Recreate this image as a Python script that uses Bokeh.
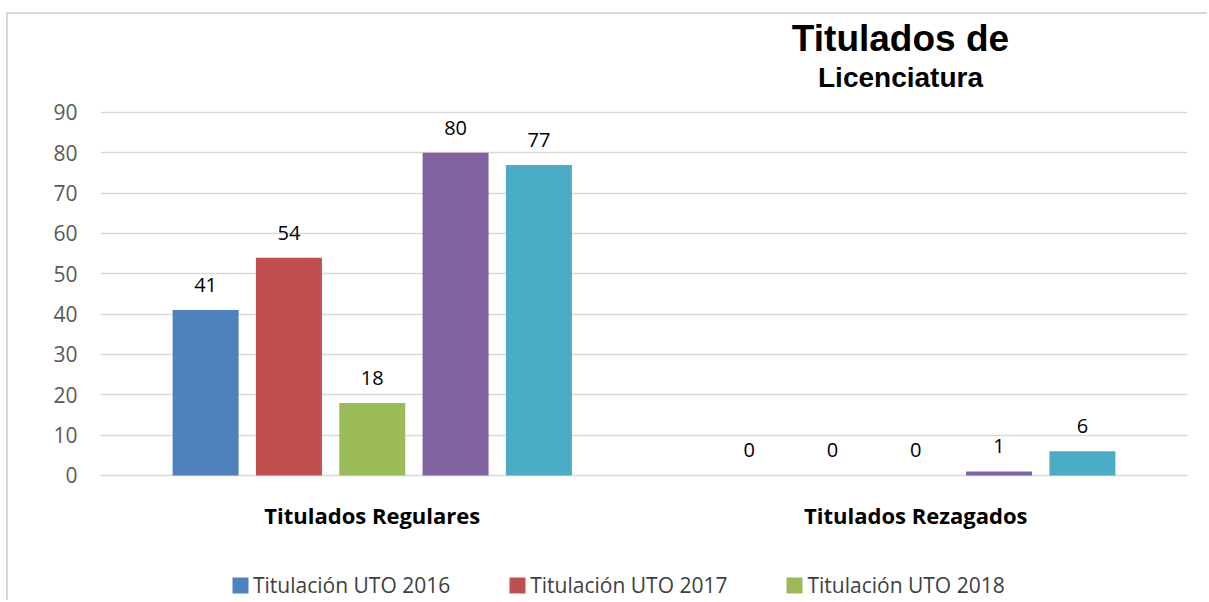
from bokeh.plotting import figure
from bokeh.layouts import column
from bokeh.models import ColumnDataSource, FactorRange, Range1d, FixedTicker, Label, Legend, LegendItem
from bokeh.core.properties import value
from bokeh.transform import dodge
from bokeh.embed import file_html
from bokeh.resources import INLINE

categories = ["Titulados Regulares", "Titulados Rezagados"]
series_names = ["Titulación UTO 2016", "Titulación UTO 2017", "Titulación UTO 2018",
                "Titulación UTO 2019", "Titulación UTO 2020"]
values_2016 = [41, 0]
values_2017 = [54, 0]
values_2018 = [18, 0]
values_2019 = [80, 1]
values_2020 = [77, 6]
y_ticks = [0, 10, 20, 30, 40, 50, 60, 70, 80, 90]
title_line1 = "Titulados de"
title_line2 = "Licenciatura"

colors = ["#4F81BD", "#C0504D", "#9BBB59", "#8064A2", "#4BACC6"]
all_values = [values_2016, values_2017, values_2018, values_2019, values_2020]

src = ColumnDataSource(data=dict(
    cat=categories,
    **{f"s{i}": v for i, v in enumerate(all_values)},
    **{f"t{i}": [str(x) for x in v] for i, v in enumerate(all_values)},
))

p = figure(x_range=FactorRange(*categories, range_padding=0),
           y_range=Range1d(-0.5, 114.05),
           width=1201, height=531, output_backend="svg", toolbar_location=None,
           min_border_left=92, min_border_right=22, min_border_top=1, min_border_bottom=68)
p.title = None
p.margin = (12, 0, 0, 6)
p.styles = {"border-top": "2px solid #d9d9d9", "border-left": "2px solid #d9d9d9"}
p.outline_line_color = None
p.background_fill_color = "white"

step = 0.1533
width = 0.1214
for i in range(5):
    off = (i - 2) * step
    p.vbar(x=dodge("cat", off, range=p.x_range), top=f"s{i}", width=width,
           source=src, color=colors[i], line_color=None)
    p.text(x=dodge("cat", off, range=p.x_range), y=f"s{i}", text=f"t{i}", source=src,
           text_align="center", text_baseline="alphabetic", y_offset=-25,
           text_font=value("Open Sans"), text_font_size=value("20px"), text_color="#000000")

p.yaxis.ticker = FixedTicker(ticks=y_ticks)
p.yaxis.axis_line_color = None
p.yaxis.major_tick_line_color = None
p.yaxis.minor_tick_line_color = None
p.yaxis.major_tick_out = 0
p.yaxis.major_tick_in = 0
p.yaxis.major_label_text_font = "Open Sans"
p.yaxis.major_label_text_font_size = "21px"
p.yaxis.major_label_text_color = "#595959"
p.yaxis.major_label_standoff = 23

p.xaxis.axis_line_color = None
p.xaxis.major_tick_line_color = None
p.xaxis.minor_tick_line_color = None
p.xaxis.major_tick_out = 0
p.xaxis.major_tick_in = 0
p.xaxis.major_label_text_font = "Open Sans"
p.xaxis.major_label_text_font_style = "bold"
p.xaxis.major_label_text_font_size = "22px"
p.xaxis.major_label_text_color = "#000000"
p.xaxis.major_label_standoff = 22

p.xgrid.grid_line_color = None
p.ygrid.ticker = FixedTicker(ticks=y_ticks)
p.ygrid.grid_line_color = "#d9d9d9"
p.ygrid.grid_line_width = 1.5

p.add_layout(Label(x=1.4719, y=108.4, text=title_line1, text_align="center", text_baseline="alphabetic",
                   text_font="Liberation Sans", text_font_style="bold", text_font_size="37px",
                   text_color="#000000"))
p.add_layout(Label(x=1.4719, y=98.8, text=title_line2, text_align="center", text_baseline="alphabetic",
                   text_font="Liberation Sans", text_font_style="bold", text_font_size="28px",
                   text_color="#000000"))

# legend strip below the chart: same series drawn from the same data, kept far out of its view
p2 = figure(width=1201, height=57, output_backend="svg", toolbar_location=None,
            x_range=FactorRange(*categories, range_padding=0), y_range=Range1d(1000, 1001),
            x_axis_type=None, y_axis_type=None,
            min_border_left=0, min_border_right=0, min_border_top=0, min_border_bottom=0)
p2.title = None
p2.margin = (0, 0, 0, 6)
p2.styles = {"border-left": "2px solid #d9d9d9"}
p2.outline_line_color = None
p2.xgrid.visible = False
p2.ygrid.visible = False
leg_renderers = []
for i in range(3):
    off = (i - 2) * step
    leg_renderers.append(p2.vbar(x=dodge("cat", off, range=p2.x_range), top=f"s{i}", width=width,
                                 source=src, color=colors[i], line_color=None))

legend = Legend(items=[LegendItem(label=series_names[i], renderers=[leg_renderers[i]]) for i in range(3)],
                orientation="horizontal", location=(130, 1),
                label_text_font="Open Sans", label_text_font_size="21px", label_text_color="#404040",
                glyph_width=20, glyph_height=20, label_standoff=3, spacing=57,
                padding=0, margin=0, border_line_color=None, background_fill_alpha=0)
p2.add_layout(legend, "center")

layout = column(p, p2, spacing=0)
open("out.html", "w").write(file_html(layout, INLINE))
